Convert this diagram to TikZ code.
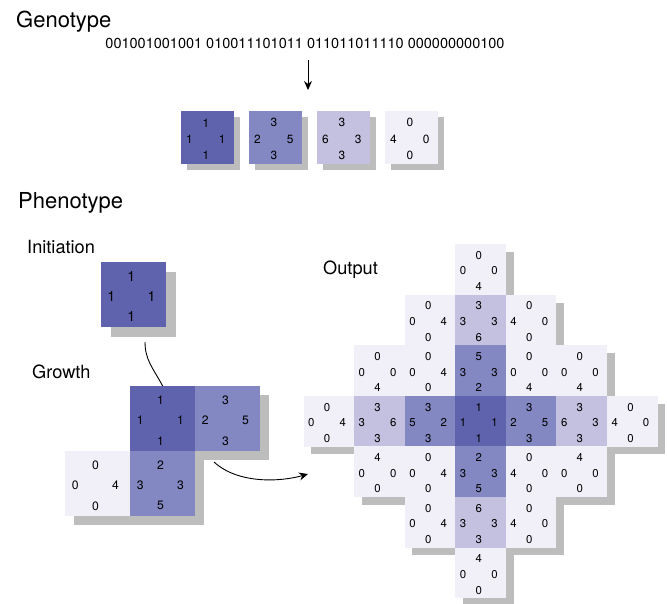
\documentclass[tikz,border=0pt]{standalone}
\usepackage{fontspec}
\setmainfont{TeX Gyre Heros}
\usetikzlibrary{arrows.meta,calc}
\definecolor{tiledark}{HTML}{5F63AE}
\definecolor{tilemid}{HTML}{8388C3}
\definecolor{tilelav}{HTML}{C3C0E0}
\definecolor{tilepale}{HTML}{F1F0F8}
\definecolor{shadowgray}{HTML}{BDBDBD}
\pgfdeclarelayer{shadow}
\pgfsetlayers{shadow,main}
% tile: name, x, y (top left), fill, top, left, right, bottom
\newcommand{\tile}[8]{%
  \begin{pgfonlayer}{shadow}
    \fill[shadowgray] (#2+\so,#3+\so) rectangle ++(\ts,\ts);
  \end{pgfonlayer}
  \node[tilebox, fill=#4] (#1) at (#2,#3) {};
  \node[num] (#1-t) at ($(#1.center)+(-0.035*\ts,-0.28*\ts)$) {#5};
  \node[num] (#1-l) at ($(#1.center)+(-0.345*\ts,0.03*\ts)$) {#6};
  \node[num] (#1-r) at ($(#1.center)+(0.275*\ts,0.03*\ts)$) {#7};
  \node[num] (#1-b) at ($(#1.center)+(-0.035*\ts,0.34*\ts)$) {#8};
}
\begin{document}
\begin{tikzpicture}[x=1pt, y=-1pt,
    tilebox/.style={rectangle, inner sep=0pt, minimum size=\ts pt, anchor=north west},
    num/.style={inner sep=0pt, font=\fontsize{\tf}{\tf}\selectfont},
    heading/.style={anchor=base west, inner sep=0pt, font=\fontsize{22}{24}\selectfont},
    stage/.style={anchor=base west, inner sep=0pt, font=\fontsize{18.2}{20}\selectfont},
    conn/.style={line width=0.9pt},
    tip/.style={-{Stealth[length=9pt, width=8pt]}}]
    \useasboundingbox (0,0) rectangle (667,603);
    % Genotype
    \node[heading] (genotype) at (16,27) {Genotype};
    \node[anchor=base, inner sep=0pt, font=\fontsize{14.5}{16}\selectfont] (code) at (305,48)
        {001001001001 010011101011 011011011110 000000000100};
    \coordinate (arrtop) at (308,60);
    \coordinate (arrbot) at (308,90);
    \draw[conn, tip] (arrtop) -- (arrbot);
    \def\ts{53}\def\so{6}\def\tf{11.9}
    \tile{g1}{181}{111}{tiledark}{1}{1}{1}{1}
    \tile{g2}{249}{111}{tilemid}{3}{2}{5}{3}
    \tile{g3}{317}{111}{tilelav}{3}{6}{3}{3}
    \tile{g4}{385}{111}{tilepale}{0}{4}{0}{0}
    % Phenotype
    \node[heading] (phenotype) at (18,208) {Phenotype};
    \node[stage] (initiation) at (27,253) {Initiation};
    \node[stage] (growth) at (32,378) {Growth};
    \node[stage] (output) at (323,274.5) {Output};
    \def\ts{65}\def\so{10}\def\tf{14.2}
    \tile{init}{101}{262}{tiledark}{1}{1}{1}{1}
    \def\so{9}\def\tf{12.2}
    \tile{gr11}{130}{386}{tiledark}{1}{1}{1}{1}
    \tile{gr12}{195}{386}{tilemid}{3}{2}{5}{3}
    \tile{gr20}{65}{451}{tilepale}{0}{0}{4}{0}
    \tile{gr21}{130}{451}{tilemid}{2}{3}{3}{5}
    % Output pattern
    \def\ts{50.6}\def\so{8}\def\tf{11.4}
    \foreach \rw/\cl/\fc/\nt/\nl/\nr/\nb in {
        0/3/pale/0/0/0/4,
        1/2/pale/0/0/4/0, 1/3/lav/3/3/3/6, 1/4/pale/0/4/0/0,
        2/1/pale/0/0/0/4, 2/2/pale/0/0/4/0, 2/3/mid/5/3/3/2, 2/4/pale/0/0/0/4, 2/5/pale/0/0/0/4,
        3/0/pale/0/0/4/0, 3/1/lav/3/3/6/3, 3/2/mid/3/5/2/3, 3/3/dark/1/1/1/1,
        3/4/mid/3/2/5/3, 3/5/lav/3/6/3/3, 3/6/pale/0/4/0/0,
        4/1/pale/4/0/0/0, 4/2/pale/0/0/4/0, 4/3/mid/2/3/3/5, 4/4/pale/0/4/0/0, 4/5/pale/4/0/0/0,
        5/2/pale/0/0/4/0, 5/3/lav/6/3/3/3, 5/4/pale/0/4/0/0,
        6/3/pale/4/0/0/0}
        \tile{o\rw\cl}{303.3+50.57*\cl}{244+50.57*\rw}{tile\fc}{\nt}{\nl}{\nr}{\nb};
    % Connectors
    \coordinate (initout) at (145,342);
    \draw[conn] (initout) .. controls (145,360) and (153,368) .. (gr11.north);
    \coordinate (growout) at (214,462);
    \coordinate (outin) at (308,474);
    \draw[conn, tip] (growout) .. controls (238,484) and (280,482) .. (outin);
\end{tikzpicture}
\end{document}
